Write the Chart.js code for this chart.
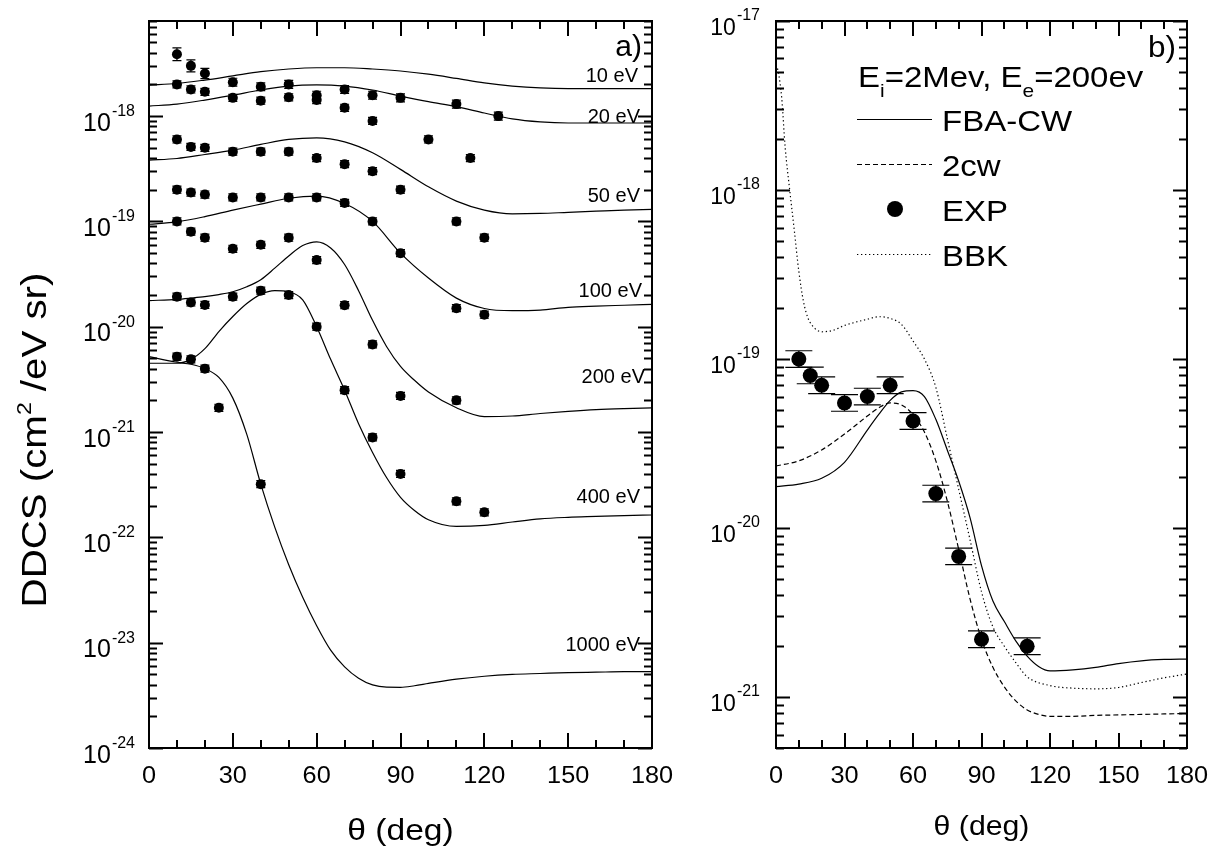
<!DOCTYPE html>
<html>
<head>
<meta charset="utf-8">
<script src="https://cdn.jsdelivr.net/npm/chart.js@4.4.1/dist/chart.umd.min.js"></script>
<style>
    body { margin: 0; background: #fff; }
    #wrap { position: relative; width: 1223px; height: 850px; }
    canvas { position: absolute; top: 0; }
    #chartA { left: 0; }
    #chartB { left: 700px; }
</style>
</head>
<body>
<div id="wrap">
    <canvas id="chartA" width="700" height="850"></canvas>
    <canvas id="chartB" width="523" height="850"></canvas>
</div>
<script>
// ---- data ----
const xTicks = [0, 30, 60, 90, 120, 150, 180];
const yExpA = [-24, -23, -22, -21, -20, -19, -18];
const yExpB = [-21, -20, -19, -18, -17];

// panel a) theory curves
const thetaCoarse = [0, 10, 20, 30, 40, 50, 60, 70, 80, 90, 100, 110, 120, 130, 140, 150, 160, 170, 180];
const curve10eV = [1.97e-18, 2.04e-18, 2.20e-18, 2.41e-18, 2.64e-18, 2.80e-18, 2.88e-18, 2.88e-18, 2.80e-18, 2.68e-18, 2.50e-18, 2.28e-18, 2.07e-18, 1.93e-18, 1.85e-18, 1.82e-18, 1.82e-18, 1.82e-18, 1.82e-18];
const curve20eV = [1.245e-18, 1.30e-18, 1.42e-18, 1.58e-18, 1.77e-18, 1.93e-18, 1.98e-18, 1.93e-18, 1.77e-18, 1.55e-18, 1.37e-18, 1.23e-18, 1.07e-18, 9.4e-19, 8.8e-19, 8.6e-19, 8.6e-19, 8.6e-19, 8.6e-19];
const curve50eV = [3.82e-19, 3.96e-19, 4.32e-19, 4.75e-19, 5.38e-19, 6.01e-19, 6.22e-19, 5.70e-19, 4.49e-19, 3.12e-19, 2.13e-19, 1.56e-19, 1.28e-19, 1.18e-19, 1.19e-19, 1.22e-19, 1.25e-19, 1.28e-19, 1.30e-19];
const curve100eV = [9.4e-20, 9.9e-20, 1.11e-19, 1.28e-19, 1.46e-19, 1.66e-19, 1.74e-19, 1.48e-19, 1.0e-19, 5.0e-20, 2.9e-20, 1.87e-20, 1.49e-20, 1.42e-20, 1.44e-20, 1.53e-20, 1.57e-20, 1.60e-20, 1.63e-20];

const thetaFine = [0, 10, 15, 20, 25, 30, 35, 40, 45, 50, 55, 60, 65, 70, 75, 80, 85, 90, 95, 100, 110, 120, 130, 140, 150, 160, 170, 180];
const curve200eV = [1.77e-20, 1.82e-20, 1.87e-20, 1.93e-20, 2.02e-20, 2.15e-20, 2.4e-20, 2.8e-20, 3.6e-20, 4.7e-20, 5.9e-20, 6.4e-20, 5.6e-20, 3.9e-20, 2.2e-20, 1.15e-20, 6.5e-21, 4.2e-21, 3.1e-21, 2.4e-21, 1.7e-21, 1.4e-21, 1.42e-21, 1.5e-21, 1.57e-21, 1.63e-21, 1.67e-21, 1.7e-21];
const curve400eV = [4.5e-21, 4.5e-21, 4.9e-21, 6.2e-21, 9.0e-21, 1.25e-20, 1.66e-20, 2.03e-20, 2.2e-20, 2.15e-20, 1.8e-20, 1.0e-20, 4.9e-21, 2.5e-21, 1.2e-21, 6.4e-22, 3.7e-22, 2.4e-22, 1.8e-22, 1.47e-22, 1.27e-22, 1.3e-22, 1.4e-22, 1.5e-22, 1.55e-22, 1.58e-22, 1.61e-22, 1.63e-22];
const curve1000eV = [5.2e-21, 4.6e-21, 4.4e-21, 4.0e-21, 3.3e-21, 2.1e-21, 9.5e-22, 3.2e-22, 1.25e-22, 5.5e-23, 2.7e-23, 1.45e-23, 8.5e-24, 5.9e-24, 4.6e-24, 3.97e-24, 3.78e-24, 3.77e-24, 3.9e-24, 4.1e-24, 4.5e-24, 4.8e-24, 5.0e-24, 5.1e-24, 5.2e-24, 5.25e-24, 5.3e-24, 5.3e-24];

// panel a) measured points
const expTheta10eV = [10, 15, 20, 30, 40, 50, 60, 70, 80, 90, 110, 125];
const exp10eV = [3.86e-18, 3.0e-18, 2.54e-18, 2.1e-18, 1.9e-18, 2.0e-18, 1.58e-18, 1.79e-18, 1.58e-18, 1.49e-18, 1.3e-18, 1.0e-18];
const err10eV = [0.15, 0.14, 0.12, 0.09, 0.09, 0.09, 0.09, 0.09, 0.09, 0.09, 0.09, 0.09];
const expTheta20eV = [10, 15, 20, 30, 40, 50, 60, 70, 80, 100, 115];
const exp20eV = [2.0e-18, 1.79e-18, 1.70e-18, 1.49e-18, 1.40e-18, 1.51e-18, 1.42e-18, 1.2e-18, 9.0e-19, 6.0e-19, 4.0e-19];
const expThetaStd = [10, 15, 20, 30, 40, 50, 60, 70, 80, 90, 110, 120];
const exp50eV = [6.0e-19, 5.1e-19, 5.0e-19, 4.6e-19, 4.6e-19, 4.6e-19, 4.0e-19, 3.5e-19, 3.0e-19, 2.0e-19, 1.0e-19, 7.0e-20];
const exp100eV = [2.0e-19, 1.88e-19, 1.8e-19, 1.69e-19, 1.69e-19, 1.69e-19, 1.69e-19, 1.5e-19, 1.0e-19, 5.0e-20, 1.5e-20, 1.3e-20];
const expTheta200eV = [10, 15, 20, 30, 40, 50, 60, 70, 80, 90, 110];
const exp200eV = [1.0e-19, 8.0e-20, 7.0e-20, 5.5e-20, 6.0e-20, 7.0e-20, 4.3e-20, 1.6e-20, 6.8e-21, 2.2e-21, 2.0e-21];
const exp400eV = [1.93e-20, 1.7e-20, 1.61e-20, 1.93e-20, 2.2e-20, 2.0e-20, 1.0e-20, 2.5e-21, 8.9e-22, 4.0e-22, 2.2e-22, 1.73e-22];
const expTheta1000eV = [10, 15, 20, 25, 40];
const exp1000eV = [5.2e-21, 4.9e-21, 4.0e-21, 1.7e-21, 3.2e-22];
const errLeft = 0.08;
const errRight = 0.12;

const energyLabels = ['10 eV', '20 eV', '50 eV', '100 eV', '200 eV', '400 eV', '1000 eV'];

// panel b) Ei = 2 MeV, Ee = 200 eV
const thetaB = [0, 10, 20, 30, 40, 45, 50, 55, 60, 65, 70, 75, 80, 85, 90, 95, 100, 105, 110, 115, 120, 130, 140, 150, 160, 170, 180];
const fbaCW = [1.76e-20, 1.82e-20, 1.97e-20, 2.45e-20, 3.8e-20, 4.7e-20, 5.7e-20, 6.4e-20, 6.5e-20, 6.0e-20, 4.4e-20, 2.9e-20, 1.9e-20, 1.15e-20, 6.0e-21, 3.7e-21, 2.8e-21, 2.15e-21, 1.75e-21, 1.52e-21, 1.43e-21, 1.45e-21, 1.5e-21, 1.58e-21, 1.64e-21, 1.67e-21, 1.68e-21];
const twoCW = [2.33e-20, 2.5e-20, 2.9e-20, 3.6e-20, 4.6e-20, 5.15e-20, 5.5e-20, 5.35e-20, 4.7e-20, 3.7e-20, 2.5e-20, 1.45e-20, 7.5e-21, 3.8e-21, 2.2e-21, 1.5e-21, 1.15e-21, 9.5e-22, 8.4e-22, 7.9e-22, 7.7e-22, 7.7e-22, 7.8e-22, 7.85e-22, 7.9e-22, 7.95e-22, 8.0e-22];
const thetaBBK = [0, 1, 2.5, 4, 6, 8, 10, 12, 14, 17, 20, 25, 30, 40, 45, 50, 55, 60, 65, 70, 75, 80, 85, 90, 95, 100, 105, 110, 120, 130, 140, 150, 160, 170, 180];
const bbk = [5.5e-18, 5.0e-18, 3.5e-18, 1.8e-18, 1.0e-18, 5.8e-19, 3.3e-19, 2.2e-19, 1.75e-19, 1.52e-19, 1.45e-19, 1.48e-19, 1.58e-19, 1.72e-19, 1.78e-19, 1.74e-19, 1.6e-19, 1.28e-19, 1.0e-19, 6.8e-20, 3.4e-20, 1.7e-20, 8.5e-21, 4.2e-21, 2.6e-21, 2.0e-21, 1.6e-21, 1.32e-21, 1.17e-21, 1.13e-21, 1.12e-21, 1.14e-21, 1.22e-21, 1.3e-21, 1.37e-21];
const legendNames = ['FBA-CW', '2cw', 'EXP', 'BBK'];

// ---- drawing helpers ----
const FONT = '"Liberation Sans", Arial, Helvetica, sans-serif';

const pts = (xs, ys) => xs.map((x, i) => ({ x: x, y: ys[i] }));

function text(ctx, s, x, y, size, align, sx) {
    ctx.save();
    ctx.font = size + 'px ' + FONT;
    ctx.textAlign = align;
    ctx.textBaseline = 'alphabetic';
    ctx.fillStyle = '#000';
    ctx.translate(x, y);
    ctx.scale(sx || 1, 1);
    ctx.fillText(s, 0, 0);
    ctx.restore();
}

function curve(label, xs, ys, dash) {
    return {
        label: label,
        data: pts(xs, ys),
        showLine: true,
        borderColor: '#000',
        borderWidth: 1.2,
        borderDash: dash || [],
        pointRadius: 0,
        cubicInterpolationMode: 'monotone'
    };
}

function points(label, xs, ys, radius, err, cap) {
    return {
        label: label,
        data: pts(xs, ys),
        showLine: false,
        pointRadius: radius,
        pointBackgroundColor: '#000',
        pointBorderWidth: 0,
        errRel: err,
        capHalf: cap
    };
}

const errorBars = {
    id: 'errorBars',
    afterDatasetsDraw(chart) {
        const ctx = chart.ctx;
        const ys = chart.scales.y;
        ctx.save();
        ctx.strokeStyle = '#000';
        ctx.lineWidth = 1.2;
        chart.data.datasets.forEach((ds, i) => {
            if (!ds.errRel) return;
            const meta = chart.getDatasetMeta(i);
            meta.data.forEach((el, j) => {
                const v = ds.data[j].y;
                const e = Array.isArray(ds.errRel) ? ds.errRel[j] : ds.errRel;
                const yHi = ys.getPixelForValue(v * (1 + e));
                const yLo = ys.getPixelForValue(v / (1 + e));
                const c = ds.capHalf;
                ctx.beginPath();
                ctx.moveTo(el.x, yHi); ctx.lineTo(el.x, yLo);
                ctx.moveTo(el.x - c, yHi); ctx.lineTo(el.x + c, yHi);
                ctx.moveTo(el.x - c, yLo); ctx.lineTo(el.x + c, yLo);
                ctx.stroke();
            });
        });
        ctx.restore();
    }
};

// box, inward ticks on all sides, tick labels
function drawFrame(chart, cfg) {
    const ctx = chart.ctx;
    const a = chart.chartArea;
    const xs = chart.scales.x, ys = chart.scales.y;
    ctx.save();
    ctx.strokeStyle = '#000';
    ctx.lineWidth = 2;
    ctx.strokeRect(a.left, a.top, a.right - a.left, a.bottom - a.top);

    ctx.beginPath();
    for (let t = 0; t <= 180; t += 10) {
        const px = Math.round(xs.getPixelForValue(t));
        const len = t % 30 === 0 ? 15 : 8;
        ctx.moveTo(px, a.bottom); ctx.lineTo(px, a.bottom - len);
        ctx.moveTo(px, a.top); ctx.lineTo(px, a.top + len);
    }
    const eLo = cfg.yExp[0] - 1, eHi = cfg.yExp[cfg.yExp.length - 1];
    for (let e = eLo; e <= eHi; e++) {
        for (let m = 1; m <= 9; m++) {
            const v = m * Math.pow(10, e);
            if (v < ys.min * 0.999 || v > ys.max * 1.001) continue;
            const py = Math.round(ys.getPixelForValue(v)) + 0.5;
            const len = m === 1 ? 14 : 8;
            ctx.moveTo(a.left, py); ctx.lineTo(a.left + len, py);
            ctx.moveTo(a.right, py); ctx.lineTo(a.right - len, py);
        }
    }
    ctx.stroke();
    ctx.restore();

    xTicks.forEach(t => {
        text(ctx, String(t), xs.getPixelForValue(t), a.bottom + 35, 23, 'center', 1.1);
    });

    cfg.yExp.forEach(e => {
        const py = ys.getPixelForValue(Math.pow(10, e));
        ctx.save();
        ctx.font = cfg.yFont + 'px ' + FONT;
        const w1 = ctx.measureText('10').width;
        ctx.font = '16px ' + FONT;
        const w2 = ctx.measureText(String(e)).width;
        ctx.restore();
        const x0 = cfg.yRight - w2 - w1 - 1;
        text(ctx, '10', x0, py + cfg.baseOff, cfg.yFont, 'left', 1);
        text(ctx, String(e), x0 + w1 + 1, py + cfg.supOff, 16, 'left', 1);
    });

    text(ctx, 'θ (deg)', (a.left + a.right) / 2, cfg.titleY, cfg.titleSize, 'center', 1.12);
}

// ---- panel a) ----
const energyLabelPos = [[638, 82], [640, 123], [640, 202], [642, 297], [645, 383], [640, 503], [640, 651]];

const panelA = {
    id: 'panelA',
    afterDraw(chart) {
        const ctx = chart.ctx;
        drawFrame(chart, { yExp: yExpA, yFont: 25, yRight: 135, baseOff: 14.5, supOff: 0, titleY: 840, titleSize: 30 });
        energyLabels.forEach((s, i) => text(ctx, s, energyLabelPos[i][0], energyLabelPos[i][1], 20, 'right', 1));
        text(ctx, 'a)', 642, 56, 30, 'right', 1);

        // rotated y title with superscript
        ctx.save();
        ctx.translate(46, 440);
        ctx.rotate(-Math.PI / 2);
        ctx.scale(1.15, 1);
        ctx.fillStyle = '#000';
        ctx.textBaseline = 'alphabetic';
        ctx.textAlign = 'left';
        const p1 = 'DDCS (cm', p2 = ' /eV sr)';
        ctx.font = '35px ' + FONT;
        const w1 = ctx.measureText(p1).width, w2 = ctx.measureText(p2).width;
        ctx.font = '20px ' + FONT;
        const ws = ctx.measureText('2').width;
        let x = -(w1 + ws + w2) / 2;
        ctx.font = '35px ' + FONT;
        ctx.fillText(p1, x, 0);
        x += w1;
        ctx.font = '20px ' + FONT;
        ctx.fillText('2', x, -15);
        x += ws;
        ctx.font = '35px ' + FONT;
        ctx.fillText(p2, x, 0);
        ctx.restore();
    }
};

new Chart(document.getElementById('chartA'), {
    type: 'scatter',
    data: {
        datasets: [
            points('exp 10 eV', expTheta10eV, exp10eV, 5, err10eV, 4.5),
            points('exp 20 eV', expTheta20eV, exp20eV, 5, errLeft, 4.5),
            points('exp 50 eV', expThetaStd, exp50eV, 5, errLeft, 4.5),
            points('exp 100 eV', expThetaStd, exp100eV, 5, errLeft, 4.5),
            points('exp 200 eV', expTheta200eV, exp200eV, 5, errLeft, 4.5),
            points('exp 400 eV', expThetaStd, exp400eV, 5, errLeft, 4.5),
            points('exp 1000 eV', expTheta1000eV, exp1000eV, 5, errLeft, 4.5),
            curve('10 eV', thetaCoarse, curve10eV),
            curve('20 eV', thetaCoarse, curve20eV),
            curve('50 eV', thetaCoarse, curve50eV),
            curve('100 eV', thetaCoarse, curve100eV),
            curve('200 eV', thetaFine, curve200eV),
            curve('400 eV', thetaFine, curve400eV),
            curve('1000 eV', thetaFine, curve1000eV)
        ]
    },
    options: {
        responsive: false,
        animation: false,
        layout: { padding: { left: 149, top: 21, right: 48, bottom: 102 } },
        scales: {
            x: { type: 'linear', min: 0, max: 180, display: false },
            y: { type: 'logarithmic', min: 1e-24, max: 8e-18, display: false }
        },
        plugins: { legend: { display: false }, tooltip: { enabled: false } }
    },
    plugins: [errorBars, panelA]
});

// ---- panel b) ----
const panelB = {
    id: 'panelB',
    afterDraw(chart) {
        const ctx = chart.ctx;
        drawFrame(chart, { yExp: yExpB, yFont: 23, yRight: 60, baseOff: 13.5, supOff: -1, titleY: 835, titleSize: 27 });
        text(ctx, 'b)', 1176 - 700, 57, 30, 'right', 1.05);

        // legend title with subscripts
        const parts = [['E', 30, 0], ['i', 19, 10], ['=2Mev, E', 30, 0], ['e', 19, 10], ['=200ev', 30, 0]];
        let x = 158;
        parts.forEach(p => {
            ctx.save();
            ctx.font = p[1] + 'px ' + FONT;
            const w = ctx.measureText(p[0]).width * 1.1;
            ctx.restore();
            text(ctx, p[0], x, 87 + p[2], p[1], 'left', 1.1);
            x += w;
        });

        const rowY = [119, 164, 209, 254];
        legendNames.forEach((name, i) => {
            const ds = chart.data.datasets.find(d => d.label === name);
            const y = rowY[i];
            ctx.save();
            if (ds.showLine) {
                ctx.strokeStyle = '#000';
                ctx.lineWidth = ds.borderWidth;
                ctx.setLineDash(ds.borderDash);
                ctx.beginPath();
                ctx.moveTo(157, y + 0.5);
                ctx.lineTo(232, y + 0.5);
                ctx.stroke();
            } else {
                ctx.fillStyle = '#000';
                ctx.beginPath();
                ctx.arc(195, y, 8, 0, Math.PI * 2);
                ctx.fill();
            }
            ctx.restore();
            text(ctx, name, 242, y + 11.5, 30, 'left', 1.1);
        });
    }
};

new Chart(document.getElementById('chartB'), {
    type: 'scatter',
    data: {
        datasets: [
            points('EXP', expTheta200eV, exp200eV, 7.5, errRight, 13.5),
            curve('FBA-CW', thetaB, fbaCW),
            curve('2cw', thetaB, twoCW, [5, 3]),
            curve('BBK', thetaBBK, bbk, [1.3, 2.7])
        ]
    },
    options: {
        responsive: false,
        animation: false,
        layout: { padding: { left: 76, top: 21, right: 36, bottom: 102 } },
        scales: {
            x: { type: 'linear', min: 0, max: 180, display: false },
            y: { type: 'logarithmic', min: 5e-22, max: 1e-17, display: false }
        },
        plugins: { legend: { display: false }, tooltip: { enabled: false } }
    },
    plugins: [errorBars, panelB]
});
</script>
</body>
</html>
